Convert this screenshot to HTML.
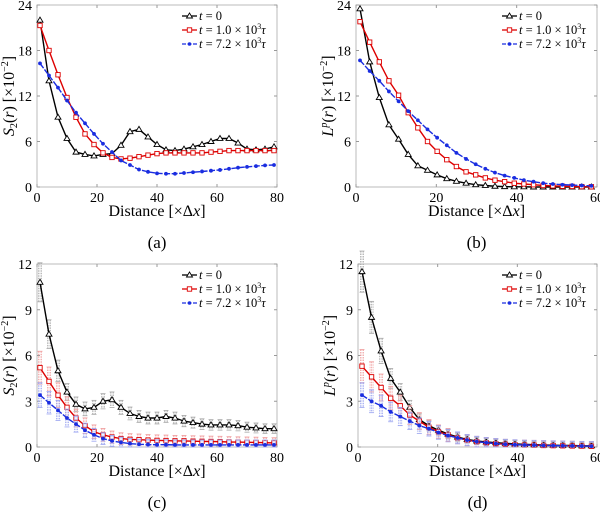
<!DOCTYPE html>
<html><head><meta charset="utf-8"><style>
body{margin:0;background:#fff;}
svg text{font-family:"Liberation Serif",serif;fill:#000;}
</style></head><body>
<svg id="fig" width="600" height="515" xmlns="http://www.w3.org/2000/svg"></svg>
<script>
const xsA = [1,4,7,10,13,16,19,22,25,28,31,34,37,40,43,46,49,52,55,58,61,64,67,70,73,76,79];
const xsB = [1,3.4,5.8,8.2,10.6,13,15.4,17.8,20.2,22.6,25,27.4,29.8,32.2,34.6,37,39.4,41.8,44.2,46.6,49,51.4,53.8,56.2,58.6];
const aBlack = [22,14,9.2,6.4,4.6,4.3,4.1,4.3,4.4,5.5,7.3,7.6,6.6,5.6,4.9,4.8,5.0,5.3,5.6,6.0,6.4,6.4,5.8,5.0,4.9,5.0,5.3];
const aRed = [21.3,18,14.8,11.8,9.2,7.0,5.6,4.5,3.9,3.7,3.8,4.0,4.2,4.4,4.5,4.5,4.5,4.5,4.5,4.6,4.7,4.8,4.8,4.8,4.8,4.8,4.8];
const aBlue = [16.3,14.7,13.1,11.4,9.8,8.4,7.0,5.7,4.6,3.5,2.9,2.3,2.0,1.8,1.75,1.75,1.85,1.95,2.05,2.15,2.25,2.4,2.55,2.65,2.75,2.85,2.9];
const bBlack = [23.5,16.5,11.8,8.2,6.3,4.3,2.8,2.2,1.6,1.1,0.75,0.5,0.3,0.2,0.1,0.05,0.03,0.02,0,0,0,0,0,0,0];
const bRed = [21.8,19.1,16.5,14.0,12.1,9.8,7.8,6.0,4.7,3.6,2.7,2.0,1.6,1.2,0.9,0.7,0.5,0.4,0.3,0.2,0.15,0.1,0.08,0.05,0.03];
const bBlue = [16.7,15.3,14.0,12.6,11.3,10.0,8.8,7.6,6.5,5.5,4.5,3.7,3.0,2.4,1.9,1.5,1.2,0.9,0.7,0.5,0.4,0.3,0.25,0.2,0.15];
const cBlack = [10.8,7.4,5.0,3.6,2.8,2.5,2.6,3.0,3.1,2.6,2.2,2.0,1.9,1.9,2.0,1.9,1.7,1.6,1.5,1.45,1.45,1.45,1.4,1.3,1.25,1.2,1.2];
const cRed = [5.2,4.3,3.4,2.6,1.9,1.4,1.0,0.8,0.65,0.55,0.5,0.48,0.45,0.43,0.42,0.4,0.4,0.38,0.37,0.36,0.35,0.33,0.32,0.31,0.3,0.28,0.27];
const cBlue = [3.4,2.9,2.4,1.9,1.5,1.1,0.8,0.55,0.4,0.3,0.22,0.18,0.16,0.15,0.15,0.14,0.14,0.14,0.14,0.14,0.14,0.14,0.14,0.14,0.14,0.14,0.14];
const dBlack = [11.5,8.5,6.3,4.5,3.6,2.6,1.8,1.4,1.1,0.85,0.65,0.5,0.4,0.33,0.28,0.24,0.2,0.18,0.15,0.13,0.12,0.1,0.1,0.08,0.08];
const dRed = [5.3,4.6,3.9,3.2,2.7,2.1,1.7,1.3,1.0,0.8,0.6,0.45,0.35,0.28,0.22,0.18,0.15,0.13,0.12,0.1,0.09,0.08,0.07,0.06,0.05];
const dBlue = [3.4,3.0,2.7,2.3,2.0,1.7,1.4,1.2,0.95,0.75,0.6,0.45,0.35,0.28,0.22,0.18,0.15,0.13,0.12,0.1,0.09,0.08,0.07,0.06,0.05];
const xTicksA = [0,20,40,60,80];
const xTicksB = [0,20,40,60];
const yTicksAB = [0,6,12,18,24];
const yTicksCD = [0,3,6,9,12];
const legendLabels = ["t = 0","t = 1.0 × 10³τ","t = 7.2 × 10³τ"];

const NS="http://www.w3.org/2000/svg";
const svg=document.getElementById('fig');
function mk(tag,attrs,parent){const e=document.createElementNS(NS,tag);for(const k in attrs)e.setAttribute(k,attrs[k]);(parent||svg).appendChild(e);return e;}

function panel(key,box,xmax,ymax,xs,series,xticks,yticks,ylab,caption,errors){
  const g=mk('g',{});
  
  
  const X=v=>box.l+(v/xmax)*(box.r-box.l);
  const Y=v=>box.b-(v/ymax)*(box.b-box.t);
  const frame=mk('rect',{x:box.l,y:box.t,width:box.r-box.l,height:box.b-box.t,fill:'none',stroke:'#bbb','stroke-width':1},g);
  
  
  xticks.forEach(t=>{
    mk('line',{x1:X(t),x2:X(t),y1:box.b,y2:box.b-3,stroke:'#999'},g);
    mk('line',{x1:X(t),x2:X(t),y1:box.t,y2:box.t+3,stroke:'#999'},g);
    const tx=mk('text',{x:X(t),y:box.b+15,'text-anchor':'middle','font-size':14},g);
    tx.textContent=t;
    
    
  });
  yticks.forEach(t=>{
    mk('line',{x1:box.l,x2:box.l+3,y1:Y(t),y2:Y(t),stroke:'#999'},g);
    mk('line',{x1:box.r,x2:box.r-3,y1:Y(t),y2:Y(t),stroke:'#999'},g);
    const tx=mk('text',{x:box.l-5,y:Y(t)+5,'text-anchor':'end','font-size':14},g);
    tx.textContent=t;
    
    
  });
  const xl=mk('text',{x:(box.l+box.r)/2,y:box.b+29,'text-anchor':'middle','font-size':16},g);
  xl.innerHTML='Distance [×Δ<tspan font-style="italic">x</tspan>]';
  
  
  const yl=mk('text',{x:0,y:0,'text-anchor':'middle','font-size':16,transform:`translate(${box.l-23},${(box.t+box.b)/2}) rotate(-90)`},g);
  yl.innerHTML=ylab;
  
  
  const cap=mk('text',{x:(box.l+box.r)/2,y:box.b+61,'text-anchor':'middle','font-size':17},g);
  cap.textContent=caption;
  
  
  const colors=['#000','#d00','#1a2de0'];
  const errCol=['#aaa','#f0a0a0','#9aa4f0'];
  series.forEach((ys,si)=>{
    if(errors){
      ys.forEach((v,i)=>{
        const e=errors*(0.2+v*0.1)*(si===0?1:1.5);
        const x=X(xs[i]);
        for(let k=-1;k<=1;k++){
          const l=mk('line',{x1:x+k*1.5,x2:x+k*1.5,y1:Y(v+e),y2:Y(Math.max(0,v-e)),stroke:errCol[si],'stroke-width':0.8,'stroke-dasharray':'1.5,1'},g);
          
          
        }
        mk('line',{x1:x-2.5,x2:x+2.5,y1:Y(v+e),y2:Y(v+e),stroke:errCol[si],'stroke-width':0.8},g);
        mk('line',{x1:x-2.5,x2:x+2.5,y1:Y(Math.max(0,v-e)),y2:Y(Math.max(0,v-e)),stroke:errCol[si],'stroke-width':0.8},g);
      });
    }
    const pts=ys.map((v,i)=>X(xs[i]).toFixed(1)+','+Y(v).toFixed(1)).join(' ');
    const pl=mk('polyline',{points:pts,fill:'none',stroke:colors[si],'stroke-width':1.4,'stroke-dasharray':si===2?'6,1.5':'none'},g);
    
    
    ys.forEach((v,i)=>{
      const cx=X(xs[i]),cy=Y(v);let m;
      if(si===0)m=mk('polygon',{points:`${cx},${cy-3} ${cx-3},${cy+2} ${cx+3},${cy+2}`,fill:'#fff',stroke:'#000','stroke-width':0.9},g);
      else if(si===1)m=mk('rect',{x:cx-2.2,y:cy-2.2,width:4.4,height:4.4,fill:'#fff',stroke:'#d00','stroke-width':0.9},g);
      else m=mk('circle',{cx:cx,cy:cy,r:1.9,fill:'#1a2de0'},g);
      
      
    });
  });
  const lx=box.r-95, ly=box.t+11;
  legendLabels.forEach((lab,i)=>{
    const y=ly+i*14;
    const lg=mk('g',{},g);
    
    
    mk('line',{x1:lx,x2:lx+15,y1:y,y2:y,stroke:colors[i],'stroke-width':1.3,'stroke-dasharray':i===2?'4,1.5':'none'},lg);
    const cx=lx+7.5;
    if(i===0)mk('polygon',{points:`${cx},${y-3} ${cx-3},${y+2} ${cx+3},${y+2}`,fill:'#fff',stroke:'#000','stroke-width':0.9},lg);
    else if(i===1)mk('rect',{x:cx-2.2,y:y-2.2,width:4.4,height:4.4,fill:'#fff',stroke:'#d00','stroke-width':0.9},lg);
    else mk('circle',{cx:cx,cy:y,r:1.8,fill:'#1a2de0'},lg);
    const t=mk('text',{x:lx+17,y:y+4,'font-size':12.5},lg);
    t.innerHTML=i===0?'<tspan font-style="italic">t</tspan> = 0':
      `<tspan font-style="italic">t</tspan> = ${i===1?'1.0':'7.2'} × 10<tspan font-size="8" dy="-5">3</tspan><tspan dy="5" font-style="italic">τ</tspan>`;
  });
}
const S2='<tspan font-style="italic">S</tspan><tspan font-size="10" dy="3">2</tspan><tspan dy="-3">(</tspan><tspan font-style="italic">r</tspan>) [×10<tspan font-size="10" dy="-6">−2</tspan><tspan dy="6">]</tspan>';
const LP='<tspan font-style="italic">L</tspan><tspan font-size="10" dy="-6" font-style="italic">p</tspan><tspan dy="6">(</tspan><tspan font-style="italic">r</tspan>) [×10<tspan font-size="10" dy="-6">−2</tspan><tspan dy="6">]</tspan>';
panel('a',{l:37,r:277,t:5,b:187},80,24,xsA,[aBlack,aRed,aBlue],xTicksA,yTicksAB,S2,'(a)',0);
panel('b',{l:356,r:597,t:5,b:187},60,24,xsB,[bBlack,bRed,bBlue],xTicksB,yTicksAB,LP,'(b)',0);
panel('c',{l:37,r:277,t:264,b:447},80,12,xsA,[cBlack,cRed,cBlue],xTicksA,yTicksCD,S2,'(c)',1);
panel('d',{l:358,r:597,t:264,b:447},60,12,xsB,[dBlack,dRed,dBlue],xTicksB,yTicksCD,LP,'(d)',1);
</script>
</body></html>
